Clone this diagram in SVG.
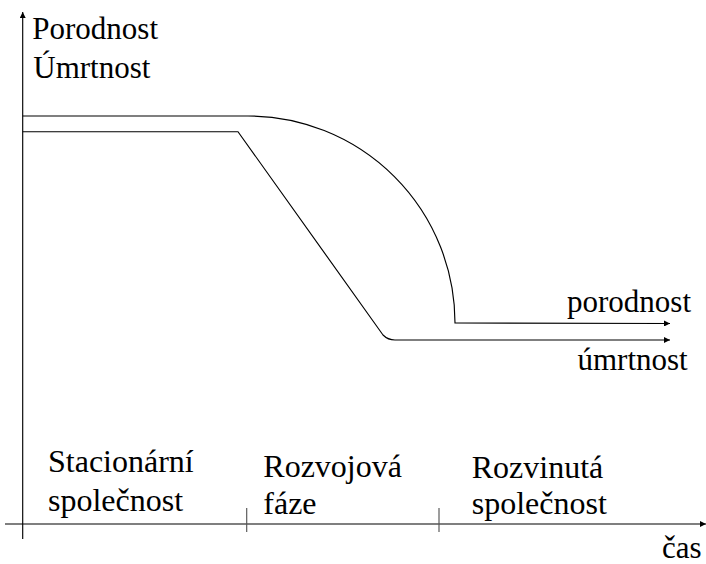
<svg xmlns="http://www.w3.org/2000/svg" width="706" height="564" viewBox="0 0 706 564">
  <defs>
    <marker id="arr" viewBox="0 0 10 10" refX="10" refY="5" markerWidth="8" markerHeight="6" markerUnits="userSpaceOnUse" orient="auto">
      <path d="M0,0 L10,5 L0,10 Z" fill="#000"/>
    </marker>
  </defs>
  <rect width="706" height="564" fill="#fff"/>

  <g id="connectors" fill="none" stroke="#000" stroke-width="1.15">
    <line id="y-axis" x1="22.7" y1="539" x2="22.7" y2="12" marker-end="url(#arr)"/>
    <line id="x-axis" x1="5" y1="524" x2="706" y2="524" marker-end="url(#arr)"/>
    <line stroke="#555" x1="246.7" y1="508" x2="246.7" y2="532"/>
    <line stroke="#555" x1="439" y1="508" x2="439" y2="532"/>
    <path id="porodnost-line" d="M22.7,116 L248,116 A207,207 0 0 1 455,323 L670,323.5" marker-end="url(#arr)"/>
    <path id="umrtnost-line" d="M22.7,131.7 L238,131.7 L383,335 Q388,340 395,340 L670,340" marker-end="url(#arr)"/>
  </g>

  <g id="axis-label-y">
    <text x="32.3" y="39.3" font-family="Liberation Serif" font-size="31" fill="#000">Porodnost</text>
    <text x="33.3" y="77.8" font-family="Liberation Serif" font-size="31" fill="#000">Úmrtnost</text>
  </g>
  <g id="label-porodnost">
    <text x="567" y="311.7" font-family="Liberation Serif" font-size="31" fill="#000">porodnost</text>
  </g>
  <g id="label-umrtnost">
    <text x="577.5" y="370" font-family="Liberation Serif" font-size="31" fill="#000">úmrtnost</text>
  </g>
  <g id="phase-stationary">
    <text x="48" y="472.3" font-family="Liberation Serif" font-size="32" fill="#000">Stacionární</text>
    <text x="48" y="511" font-family="Liberation Serif" font-size="32" fill="#000">společnost</text>
  </g>
  <g id="phase-developing">
    <text x="263.3" y="477.3" font-family="Liberation Serif" font-size="32" fill="#000">Rozvojová</text>
    <text x="263.3" y="514" font-family="Liberation Serif" font-size="32" fill="#000">fáze</text>
  </g>
  <g id="phase-developed">
    <text x="471.7" y="478.3" font-family="Liberation Serif" font-size="32" fill="#000">Rozvinutá</text>
    <text x="471.7" y="514" font-family="Liberation Serif" font-size="32" fill="#000">společnost</text>
  </g>
  <g id="axis-label-x">
    <text x="662" y="558" font-family="Liberation Serif" font-size="31" fill="#000">čas</text>
  </g>
</svg>
